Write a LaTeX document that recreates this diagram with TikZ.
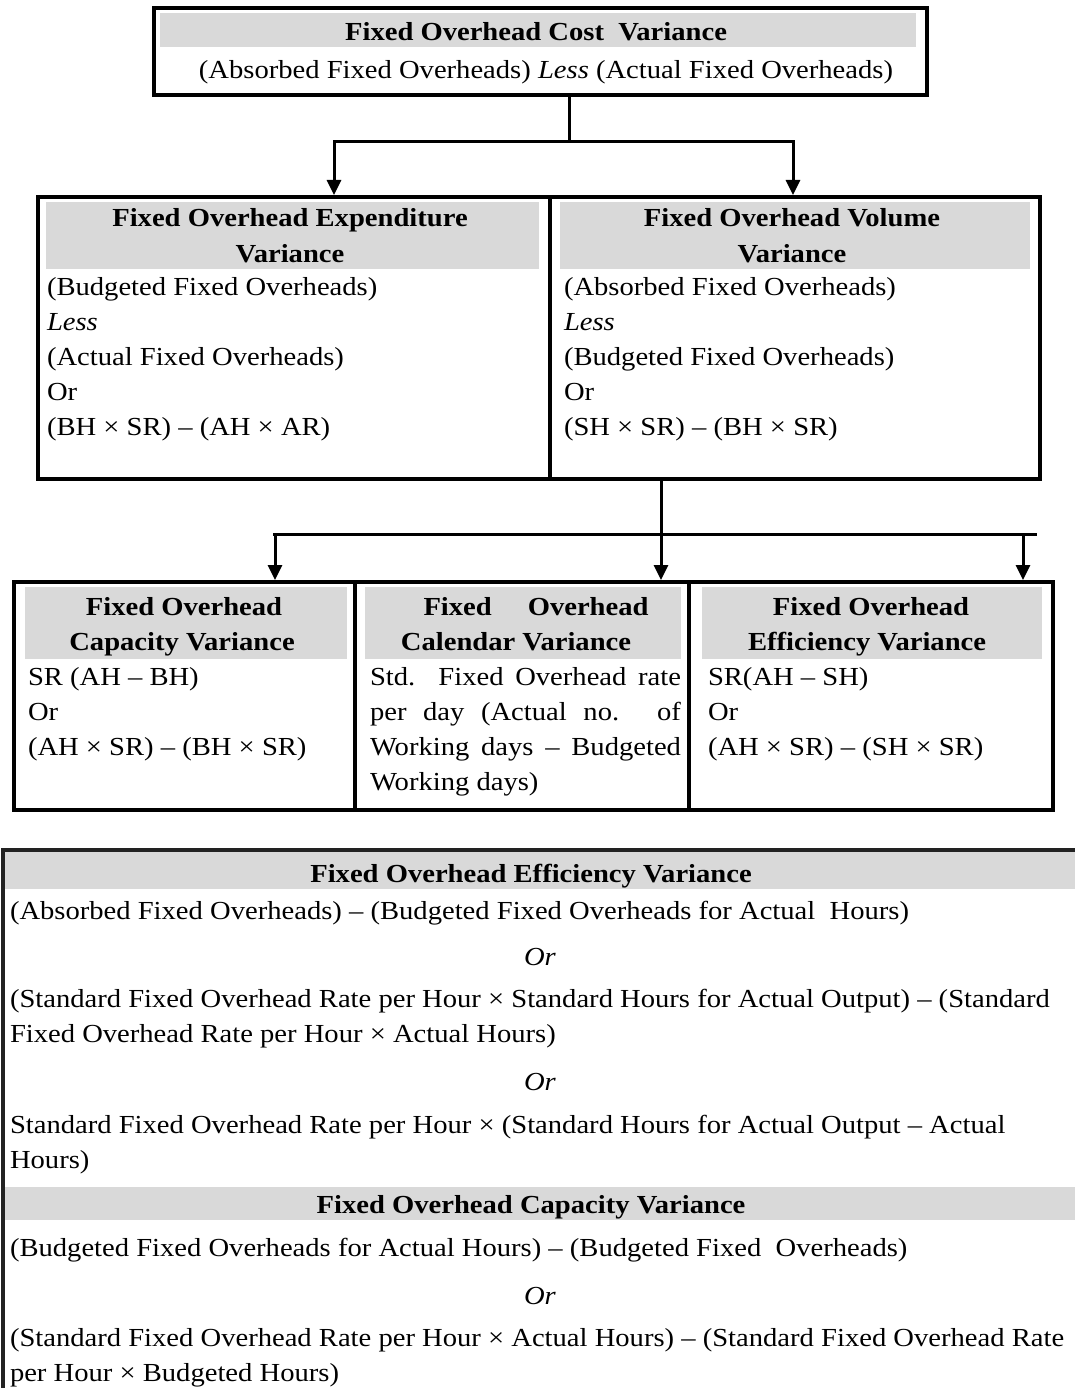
\documentclass[tikz,border=0pt]{standalone}
\usepackage{fontspec}
\setmainfont{Liberation Serif}[FakeStretch=1.1]
\usetikzlibrary{arrows.meta}
\definecolor{bandgray}{HTML}{D9D9D9}
\definecolor{lowline}{HTML}{222222}
\begin{document}
\begin{tikzpicture}[x=1pt,y=-1pt,
  box/.style={draw, line width=3.5pt, rectangle, inner sep=0pt, outer sep=0pt, anchor=north west},
  band/.style={fill=bandgray, rectangle, inner sep=0pt, outer sep=0pt, anchor=north west},
  conn/.style={line width=3pt},
  arr/.style={line width=3pt, -{Triangle[width=14pt,length=15pt]}},
  txt/.style={inner sep=0pt, outer sep=0pt, anchor=base west, font=\fontsize{26}{35}\selectfont},
  ctr/.style={inner sep=0pt, outer sep=0pt, anchor=base, font=\fontsize{26}{35}\selectfont},
  ttl/.style={inner sep=0pt, outer sep=0pt, anchor=base, font=\fontsize{26}{35}\selectfont\bfseries},
]
\useasboundingbox (0,0) rectangle (1075,1388);
\clip (0,0) rectangle (1075,1388);

% ---------- top box ----------
\node[band, minimum width=756, minimum height=34] (b0) at (160,13) {};
\node[box, minimum width=773, minimum height=87] (focv) at (154,8) {};
\node[ttl] (t0) at (536,41) {Fixed Overhead Cost\ \ Variance};
\node[ctr] (s0) at (546,79) {(Absorbed Fixed Overheads) \textit{Less} (Actual Fixed Overheads)};

% ---------- middle boxes ----------
\node[band, minimum width=493, minimum height=67] (b1) at (46,202) {};
\node[band, minimum width=470, minimum height=67] (b2) at (560,202) {};
\node[box, minimum width=512, minimum height=282] (exp) at (38,197) {};
\node[box, minimum width=490, minimum height=282] (vol) at (550,197) {};

\node[ttl] (e1) at (290,227) {Fixed Overhead Expenditure};
\node[ttl] (e2) at (290,262) {Variance};
\node[txt] (e3) at (47,295) {(Budgeted Fixed Overheads)};
\node[txt] (e4) at (47,330) {\textit{Less}};
\node[txt] (e5) at (47,365) {(Actual Fixed Overheads)};
\node[txt] (e6) at (47,400) {Or};
\node[txt] (e7) at (47,435) {(BH × SR) – (AH × AR)};

\node[ttl] (v1) at (792,227) {Fixed Overhead Volume};
\node[ttl] (v2) at (792,262) {Variance};
\node[txt] (v3) at (564,295) {(Absorbed Fixed Overheads)};
\node[txt] (v4) at (564,330) {\textit{Less}};
\node[txt] (v5) at (564,365) {(Budgeted Fixed Overheads)};
\node[txt] (v6) at (564,400) {Or};
\node[txt] (v7) at (564,435) {(SH × SR) – (BH × SR)};

% ---------- bottom boxes ----------
\node[band, minimum width=322, minimum height=72] (b3) at (25,587) {};
\node[band, minimum width=316, minimum height=72] (b4) at (365,587) {};
\node[band, minimum width=340, minimum height=72] (b5) at (702,587) {};
\node[box, minimum width=341, minimum height=228] (cap) at (14,582) {};
\node[box, minimum width=334, minimum height=228] (cal) at (355,582) {};
\node[box, minimum width=364, minimum height=228] (eff) at (689,582) {};

\node[ttl] (c1) at (184,615) {Fixed Overhead};
\node[ttl] (c2) at (182,650) {Capacity Variance};
\node[txt] (c3) at (28,685) {SR (AH – BH)};
\node[txt] (c4) at (28,720) {Or};
\node[txt] (c5) at (28,755) {(AH × SR) – (BH × SR)};

\node[ttl] (k1) at (536,615) {\makebox[225pt][s]{Fixed Overhead}};
\node[ttl] (k2) at (516,650) {Calendar Variance};
\node[txt] (k3) at (370,685) {\makebox[311pt][s]{Std. Fixed Overhead rate}};
\node[txt] (k4) at (370,720) {\makebox[311pt][s]{per day (Actual no. of}};
\node[txt] (k5) at (370,755) {\makebox[311pt][s]{Working days – Budgeted}};
\node[txt] (k6) at (370,790) {Working days)};

\node[ttl] (f1) at (871,615) {Fixed Overhead};
\node[ttl] (f2) at (867,650) {Efficiency Variance};
\node[txt] (f3) at (708,685) {SR(AH – SH)};
\node[txt] (f4) at (708,720) {Or};
\node[txt] (f5) at (708,755) {(AH × SR) – (SH × SR)};

% ---------- connectors ----------
\coordinate (j1) at (569,142);
\coordinate (p1) at (334,195);
\coordinate (p2) at (793,195);
\draw[conn] (focv.south -| j1) -- (j1);
\draw[arr] (j1) -| (p1);
\draw[arr] (j1) -| (p2);

\coordinate (h1) at (273,534);
\coordinate (h2) at (1037,534);
\coordinate (p3) at (275,580);
\coordinate (p4) at (661,580);
\coordinate (p5) at (1023,580);
\draw[conn] (h1) -- (h2);
\draw[arr] (vol.south -| p4) -- (p4);
\draw[arr] (h1 -| p3) -- (p3);
\draw[arr] (h1 -| p5) -- (p5);

% ---------- lower section ----------
\node[band, minimum width=1075, minimum height=37] (b6) at (5,852) {};
\node[band, minimum width=1075, minimum height=33] (b7) at (5,1187) {};
\draw[lowline, line width=4pt] (1090,850) -- (3,850) -- (3,1400);

\node[ttl] (l0) at (531,882) {Fixed Overhead Efficiency Variance};
\node[txt] (l1) at (10,919) {(Absorbed Fixed Overheads) – (Budgeted Fixed Overheads for Actual\ \ Hours)};
\node[ctr] (l2) at (540,965) {\textit{Or}};
\node[txt] (l3) at (10,1007) {(Standard Fixed Overhead Rate per Hour × Standard Hours for Actual Output) – (Standard};
\node[txt] (l4) at (10,1042) {Fixed Overhead Rate per Hour × Actual Hours)};
\node[ctr] (l5) at (540,1090) {\textit{Or}};
\node[txt] (l6) at (10,1133) {Standard Fixed Overhead Rate per Hour × (Standard Hours for Actual Output – Actual};
\node[txt] (l7) at (10,1168) {Hours)};
\node[ttl] (m0) at (531,1213) {Fixed Overhead Capacity Variance};
\node[txt] (m1) at (10,1256) {(Budgeted Fixed Overheads\ for Actual Hours) – (Budgeted Fixed\ \ Overheads)};
\node[ctr] (m2) at (540,1304) {\textit{Or}};
\node[txt] (m3) at (10,1346) {(Standard Fixed Overhead Rate per Hour × Actual Hours) – (Standard Fixed Overhead Rate};
\node[txt] (m4) at (10,1381) {per Hour × Budgeted Hours)};
\end{tikzpicture}
\end{document}
